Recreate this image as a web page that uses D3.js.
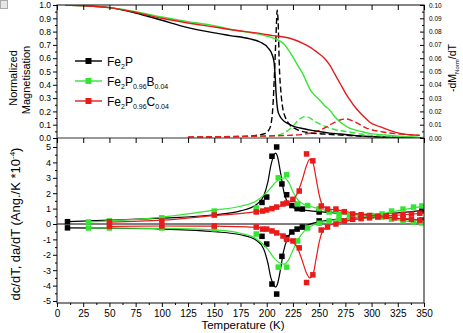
<!DOCTYPE html>
<html><head><meta charset="utf-8">
<script src="https://cdn.jsdelivr.net/npm/d3@7"></script>
<style>body{margin:0;background:#fff}svg{display:block;font-family:"Liberation Sans",Arial,sans-serif}</style>
</head><body><svg id="c" width="463" height="333"></svg>
<script>
// ---------- DATA ----------
const seriesNames = ["Fe2P", "Fe2P0.96B0.04", "Fe2P0.96C0.04"];
const colors = ["#000000", "#33e633", "#e81a1a"];

// top panel: normalized magnetisation M(T)
const mBlackT = [8,25,50,75,100,125,150,165,184,194,201,205,207,208,209,210.5,212.5,216,220,225,232,245,251,260,270,285,298,320,345];
const mBlackV = [1.0,0.995,0.98,0.94,0.885,0.83,0.79,0.77,0.745,0.72,0.68,0.63,0.57,0.47,0.33,0.21,0.165,0.13,0.11,0.09,0.075,0.055,0.047,0.037,0.03,0.018,0.01,0.003,0.0];
const mGreenT = [8,25,50,75,100,125,150,170,190,203,210,216,220,225,230,234,238,241,246,251,255,260,265,270,279,290,298,318,346];
const mGreenV = [1.0,0.995,0.98,0.95,0.91,0.875,0.845,0.81,0.785,0.76,0.74,0.71,0.67,0.61,0.54,0.49,0.42,0.37,0.32,0.28,0.245,0.21,0.16,0.12,0.075,0.05,0.035,0.02,0.005];
const mRedT = [8,25,50,75,100,125,150,170,190,206,222,235,242,248,255,260,265,270,275,279,284,289,294,298,308,318,327,346];
const mRedV = [1.0,0.995,0.98,0.945,0.9,0.865,0.835,0.81,0.79,0.77,0.75,0.71,0.68,0.645,0.6,0.55,0.48,0.41,0.34,0.29,0.235,0.19,0.15,0.12,0.085,0.055,0.035,0.02];

// top panel: -dM/dT (right axis)
const dBlackT = [125,150,175,190,197,202,204,206,207.5,209,210,211,212,213.5,215,218,222,230,240,255,275,300,325,350];
const dBlackV = [0.0005,0.0008,0.0012,0.002,0.003,0.006,0.01,0.025,0.05,0.08,0.096,0.085,0.055,0.035,0.024,0.015,0.01,0.006,0.004,0.003,0.002,0.001,0.0005,0.0002];
const dGreenT = [125,150,175,200,210,217,225,231,236,240,245,251,260,270,279,290,300,320,350];
const dGreenV = [0.0005,0.0008,0.001,0.0015,0.002,0.004,0.009,0.014,0.016,0.0155,0.013,0.0105,0.0075,0.0055,0.0045,0.003,0.002,0.001,0.0004];
const dRedT = [125,150,175,200,220,232,251,263,270,276,283,295,311,327,346];
const dRedV = [0.0008,0.001,0.0012,0.0015,0.002,0.0025,0.006,0.011,0.0135,0.0143,0.0125,0.0075,0.0045,0.003,0.002];

// bottom panel: measured points (upper = dc/dT, lower = da/dT)
const pBlackT = [10,195.5,200,205,209.5,214.5,219,224,229,234,250,348];
const pBlackUp = [0.15,1.4,1.75,4.4,5.0,2.6,1.9,1.2,1.0,0.97,0.78,0.9];
const pBlackLo = [-0.25,-0.8,-1.3,-3.9,-4.55,-2.1,-0.9,-0.52,-0.33,-0.2,0.2,0.25];
const pGreenT = [30,50,100,150,190,211,219,229.5,239,250,259.5,269,279,289,300,310,319,330,340,348];
const pGreenUp = [0.13,0.2,0.4,0.84,1.04,3.0,3.2,1.3,1.2,1.0,0.78,0.65,0.55,0.52,0.55,0.65,0.84,0.97,1.1,1.17];
const pGreenLo = [-0.26,-0.26,-0.26,-0.32,-0.65,-2.8,-2.8,-1.1,-0.26,0.05,0.2,0.32,0.4,0.45,0.5,0.45,0.32,0.2,0.13,0.07];
const pRedT = [50,100,150,190,196,200,205,209.5,215.5,219,225,231,238,244,252,258,266,274,282,290,298,306,314,322,330,338,346];
const pRedUp = [0.15,0.2,0.58,0.78,0.84,0.91,1.0,1.1,1.3,1.36,1.6,2.14,4.55,4.1,1.17,0.97,0.97,0.8,0.65,0.6,0.55,0.5,0.5,0.55,0.6,0.65,0.7];
const pRedLo = [-0.15,-0.13,-0.13,-0.2,-0.33,-0.33,-0.45,-0.58,-0.78,-1.0,-1.1,-1.55,-3.8,-3.3,-0.39,-0.2,0.0,0.2,0.3,0.35,0.4,0.45,0.5,0.4,0.35,0.3,0.25];

// bottom panel: fitted curves
const fBlackT = [10,50,100,150,175,190,197,201,204,207,208.5,210,213,216,220,226,235,250,275,300,325,350];
const fBlackUp = [0.15,0.25,0.38,0.6,0.85,1.25,1.8,2.7,3.8,4.5,4.6,4.45,3.4,2.2,1.4,1.05,0.92,0.8,0.68,0.62,0.72,0.9];
const fBlackLo = [-0.25,-0.27,-0.33,-0.5,-0.7,-1.05,-1.6,-2.5,-3.5,-4.0,-4.1,-3.95,-3.0,-1.8,-0.9,-0.4,-0.15,0.15,0.35,0.45,0.35,0.25];
const fGreenT = [30,50,100,150,175,190,200,207,213,217,221,225,230,236,245,260,280,300,320,340,350];
const fGreenUp = [0.13,0.2,0.45,0.9,1.15,1.5,2.05,2.6,2.95,3.0,2.7,2.1,1.55,1.25,1.08,0.82,0.6,0.56,0.8,1.05,1.17];
const fGreenLo = [-0.26,-0.26,-0.28,-0.38,-0.6,-0.95,-1.55,-2.2,-2.55,-2.6,-2.3,-1.7,-1.0,-0.45,-0.05,0.2,0.4,0.5,0.32,0.13,0.07];
const fRedT = [50,100,150,190,210,222,229,234,238,241,244,247,250,253,258,270,290,310,330,350];
const fRedUp = [0.12,0.25,0.55,0.8,1.1,1.45,1.95,2.9,3.8,4.2,4.0,3.0,1.9,1.25,1.0,0.88,0.62,0.52,0.6,0.7];
const fRedLo = [-0.15,-0.13,-0.14,-0.22,-0.55,-1.05,-1.5,-2.4,-3.2,-3.5,-3.3,-2.3,-1.2,-0.5,-0.15,0.1,0.35,0.45,0.35,0.25];

const xTicks = [0,25,50,75,100,125,150,175,200,225,250,275,300,325,350];
const yTopTicks = [0,0.1,0.2,0.3,0.4,0.5,0.6,0.7,0.8,0.9,1.0];
const yTopRTicks = [0,0.01,0.02,0.03,0.04,0.05,0.06,0.07,0.08,0.09,0.1];
const yBotTicks = [-5,-4,-3,-2,-1,0,1,2,3,4,5];

// ---------- LAYOUT ----------
const L = 57, R = 424, T0 = 5, MID = 138, B = 303;
const svg = d3.select("#c");
const x = d3.scaleLinear([0,350],[L,R]);
const yT = d3.scaleLinear([0,1],[MID,T0]);
const yTR = d3.scaleLinear([0,0.1],[MID,T0]);
const yB = d3.scaleLinear([-5,5],[301,147]);

const defs = svg.append("defs");
defs.append("clipPath").attr("id","ct").append("rect").attr("x",L).attr("y",T0).attr("width",R-L).attr("height",MID-T0);
defs.append("clipPath").attr("id","cb").append("rect").attr("x",L).attr("y",MID).attr("width",R-L).attr("height",B-MID);

// corner icon
svg.append("rect").attr("x",0.5).attr("y",0.5).attr("width",7).attr("height",8).attr("fill","#e6e6e6").attr("stroke","#aaa");

const zip = (a,b)=>a.map((t,i)=>[t,b[i]]);

// ---------- TOP PANEL ----------
const gt = svg.append("g").attr("clip-path","url(#ct)");
const lineT = d3.line().x(d=>x(d[0])).y(d=>yT(d[1])).curve(d3.curveMonotoneX);
const lineTR = d3.line().x(d=>x(d[0])).y(d=>yTR(d[1])).curve(d3.curveMonotoneX);
const dash = [[dBlackT,dBlackV],[dGreenT,dGreenV],[dRedT,dRedV]];
dash.forEach((s,i)=>gt.append("path").attr("d",lineTR(zip(s[0],s[1]))).attr("fill","none")
  .attr("stroke",colors[i]).attr("stroke-width",1.4).attr("stroke-dasharray","6,3"));
const mag = [[mBlackT,mBlackV],[mGreenT,mGreenV],[mRedT,mRedV]];
mag.forEach((s,i)=>gt.append("path").attr("d",lineT(zip(s[0],s[1]))).attr("fill","none")
  .attr("stroke",colors[i]).attr("stroke-width",1.4));

// ---------- BOTTOM PANEL ----------
const gb = svg.append("g").attr("clip-path","url(#cb)");
gb.append("line").attr("x1",L).attr("x2",R).attr("y1",yB(0)).attr("y2",yB(0)).attr("stroke","#555").attr("stroke-width",1.6);
const lineB = d3.line().x(d=>x(d[0])).y(d=>yB(d[1])).curve(d3.curveMonotoneX);
const fits = [[fBlackT,fBlackUp,fBlackLo],[fGreenT,fGreenUp,fGreenLo],[fRedT,fRedUp,fRedLo]];
const pts = [[pBlackT,pBlackUp,pBlackLo],[pGreenT,pGreenUp,pGreenLo],[pRedT,pRedUp,pRedLo]];
const ms = 5.5;
[0,1,2].forEach(i=>{
  const f = fits[i];
  [f[1],f[2]].forEach(v=>gb.append("path").attr("d",lineB(zip(f[0],v))).attr("fill","none")
    .attr("stroke",colors[i]).attr("stroke-width",1.2));
  const p = pts[i];
  [p[1],p[2]].forEach(v=>gb.selectAll(null).data(zip(p[0],v)).enter().append("rect")
    .attr("x",d=>x(d[0])-ms/2).attr("y",d=>yB(d[1])-ms/2).attr("width",ms).attr("height",ms)
    .attr("fill",colors[i]));
});

// ---------- AXES ----------
function styleAxis(g, fs){
  g.select(".domain").remove();
  g.selectAll("line").attr("stroke","#000").attr("stroke-width",1);
  g.selectAll("text").attr("font-size",fs).attr("fill","#000").attr("font-family","Liberation Sans, Arial, sans-serif");
}
svg.append("rect").attr("x",L).attr("y",T0).attr("width",R-L).attr("height",B-T0).attr("fill","none").attr("stroke","#333").attr("stroke-width",1.2);
svg.append("line").attr("x1",L).attr("x2",R).attr("y1",MID).attr("y2",MID).attr("stroke","#333").attr("stroke-width",1.2);

const minorX = d3.range(12.5,350,25);
svg.append("g").attr("transform",`translate(0,${T0})`).call(d3.axisBottom(x).tickValues(xTicks).tickSize(5).tickFormat(""))
  .call(g=>styleAxis(g,0));
svg.append("g").attr("transform",`translate(0,${MID})`).call(d3.axisBottom(x).tickValues(xTicks).tickSize(5).tickFormat(""))
  .call(g=>styleAxis(g,0));
svg.append("g").attr("transform",`translate(0,${B})`).call(d3.axisBottom(x).tickValues(xTicks).tickSize(4).tickPadding(3).tickFormat(d=>String(d)))
  .call(g=>styleAxis(g,10));
svg.append("g").attr("transform",`translate(0,${B})`).call(d3.axisBottom(x).tickValues(minorX).tickSize(2).tickFormat(""))
  .call(g=>styleAxis(g,0));

svg.append("g").attr("transform",`translate(${L},0)`).call(d3.axisLeft(yT).tickValues(yTopTicks).tickSize(4).tickPadding(2).tickFormat(d3.format(".1f")))
  .call(g=>styleAxis(g,8.5));
svg.append("g").attr("transform",`translate(${L},0)`).call(d3.axisLeft(yT).tickValues(d3.range(0.05,1,0.1)).tickSize(2).tickFormat(""))
  .call(g=>styleAxis(g,0));
svg.append("g").attr("transform",`translate(${L},0)`).call(d3.axisLeft(yB).tickValues(yBotTicks).tickSize(4).tickPadding(2).tickFormat(d=>String(d)))
  .call(g=>styleAxis(g,9));
svg.append("g").attr("transform",`translate(${L},0)`).call(d3.axisLeft(yB).tickValues(d3.range(-4.5,5,1)).tickSize(2).tickFormat(""))
  .call(g=>styleAxis(g,0));
svg.append("g").attr("transform",`translate(${R},0)`).call(d3.axisRight(yTR).tickValues(yTopRTicks).tickSize(-4).tickPadding(5).tickFormat(d3.format(".2f")))
  .call(g=>styleAxis(g,6.5));
svg.append("g").attr("transform",`translate(${R},0)`).call(d3.axisRight(yTR).tickValues(d3.range(0.005,0.1,0.01)).tickSize(-2).tickFormat(""))
  .call(g=>styleAxis(g,0));

// ---------- TITLES ----------
svg.append("text").attr("transform","translate(17,78) rotate(-90)").attr("text-anchor","middle").attr("font-size",11).text("Normalized");
svg.append("text").attr("transform","translate(30,80) rotate(-90)").attr("text-anchor","middle").attr("font-size",11).text("Magnetisation");
const t3 = svg.append("text").attr("transform","translate(20,224) rotate(-90)").attr("text-anchor","middle").attr("font-size",13);
t3.append("tspan").text("dc/dT, da/dT (Ang./K *10");
t3.append("tspan").attr("dy",-5).attr("font-size",8).text("-4");
t3.append("tspan").attr("dy",5).text(")");
const t4 = svg.append("text").attr("transform","translate(456,68) rotate(-90)").attr("text-anchor","middle").attr("font-size",10.5);
t4.append("tspan").text("-dM");
t4.append("tspan").attr("dy",3).attr("font-size",6).text("Norm");
t4.append("tspan").attr("dy",-3).text("/dT");
svg.append("text").attr("x",243).attr("y",329).attr("text-anchor","middle").attr("font-size",11.5).text("Temperature (K)");

// ---------- LEGEND ----------
const legParts = [[["Fe",""],["2","s"],["P",""]],
                  [["Fe",""],["2","s"],["P",""],["0.96","s"],["B",""],["0.04","s"]],
                  [["Fe",""],["2","s"],["P",""],["0.96","s"],["C",""],["0.04","s"]]];
legParts.forEach((parts,i)=>{
  const yy = 61 + i*20;
  svg.append("line").attr("x1",75).attr("x2",102).attr("y1",yy).attr("y2",yy).attr("stroke",colors[i]).attr("stroke-width",1.4);
  svg.append("rect").attr("x",88.5-3).attr("y",yy-3).attr("width",6).attr("height",6).attr("fill",colors[i]);
  const tx = svg.append("text").attr("x",107).attr("y",yy+4.5).attr("font-size",12);
  let sub = false;
  parts.forEach(p=>{
    const ts = tx.append("tspan").text(p[0]);
    if(p[1]==="s"){ ts.attr("font-size",7).attr("dy",sub?0:3); sub=true; }
    else { ts.attr("dy",sub?-3:0); sub=false; }
  });
});
</script></body></html>
